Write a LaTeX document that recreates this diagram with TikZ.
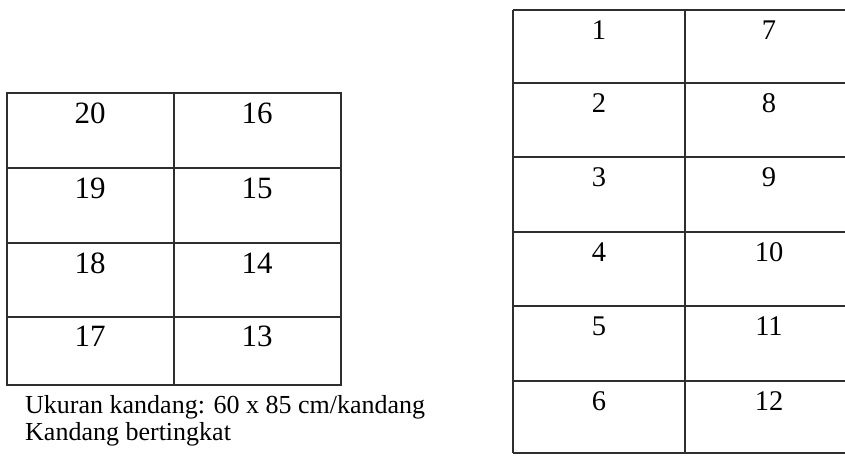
\documentclass[tikz,border=0pt]{standalone}
\usepackage{fontspec}
\setmainfont{Liberation Serif}
\begin{document}
\begin{tikzpicture}[x=1pt,y=-1pt,
  gridline/.style={draw=black!82,line width=1.5pt},
  numbig/.style={anchor=base,inner sep=0pt,font=\fontsize{31}{31}\selectfont},
  numsmall/.style={anchor=base,inner sep=0pt,font=\fontsize{28.5}{28.5}\selectfont},
  caption/.style={anchor=base west,inner sep=0pt,font=\fontsize{26}{26}\selectfont}]
\useasboundingbox (0,0) rectangle (845,455);

% ---- stacked cages, 4 rows x 2 columns ----
\draw[gridline] (7,93) rectangle (341,385);
\foreach \yy in {168,243,317} \draw[gridline] (7,\yy) -- (341,\yy);
\draw[gridline] (174,93) -- (174,385);

\node[numbig] (c20) at (90,123) {20};
\node[numbig] (c16) at (257,123) {16};
\node[numbig] (c19) at (90,198) {19};
\node[numbig] (c15) at (257,198) {15};
\node[numbig] (c18) at (90,273) {18};
\node[numbig] (c14) at (257,273) {14};
\node[numbig] (c17) at (90,346) {17};
\node[numbig] (c13) at (257,346) {13};

\node[caption] (size) at (25,413) {Ukuran kandang: 60 x 85 cm/kandang};
\node[caption] (kind) at (25,440) {Kandang bertingkat};

% ---- cage block, 6 rows x 2 columns ----
\foreach \yy in {10,83,157,232,306,381,453} \draw[gridline] (513,\yy) -- (845,\yy);
\draw[gridline] (513,10) -- (513,453);
\draw[gridline] (685,10) -- (685,453);

\node[numsmall] (c1) at (599,39) {1};
\node[numsmall] (c7) at (769,39) {7};
\node[numsmall] (c2) at (599,112) {2};
\node[numsmall] (c8) at (769,112) {8};
\node[numsmall] (c3) at (599,186) {3};
\node[numsmall] (c9) at (769,186) {9};
\node[numsmall] (c4) at (599,261) {4};
\node[numsmall] (c10) at (769,261) {10};
\node[numsmall] (c5) at (599,335) {5};
\node[numsmall] (c11) at (769,335) {11};
\node[numsmall] (c6) at (599,410) {6};
\node[numsmall] (c12) at (769,410) {12};
\end{tikzpicture}
\end{document}
